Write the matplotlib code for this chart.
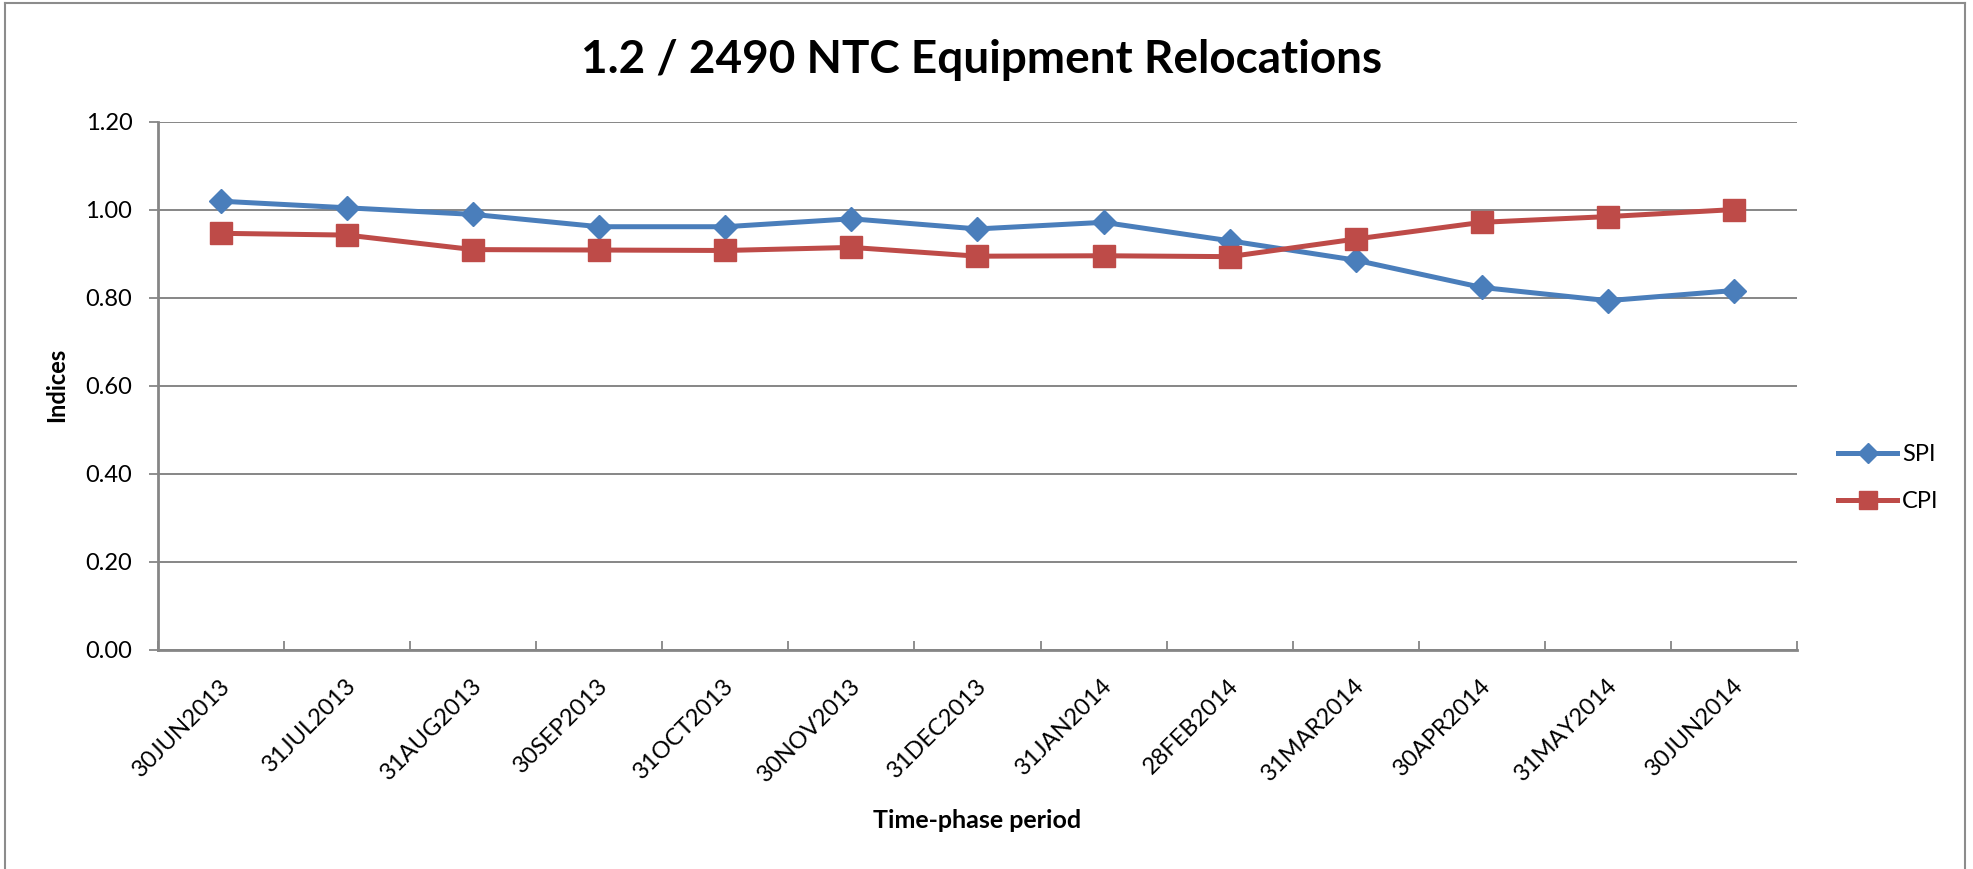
import matplotlib
matplotlib.use("Agg")
import matplotlib.pyplot as plt
from matplotlib.lines import Line2D
from matplotlib.transforms import ScaledTranslation

# Data
periods = ['30JUN2013', '31JUL2013', '31AUG2013', '30SEP2013', '31OCT2013',
           '30NOV2013', '31DEC2013', '31JAN2014', '28FEB2014', '31MAR2014',
           '30APR2014', '31MAY2014', '30JUN2014']
spi = [1.02, 1.005, 0.990, 0.962, 0.962, 0.980, 0.957, 0.972, 0.930, 0.886, 0.824, 0.794, 0.817]
cpi = [0.947, 0.943, 0.910, 0.909, 0.908, 0.915, 0.895, 0.896, 0.894, 0.934, 0.972, 0.985, 1.001]
y_ticks = [0.0, 0.2, 0.4, 0.6, 0.8, 1.0, 1.2]

plt.rcParams['font.family'] = ['Lato', 'DejaVu Sans']

W, H = 1973, 869
fig = plt.figure(figsize=(W / 100, H / 100), dpi=100)
fig.patch.set_facecolor('white')

# plot area in pixel coords
left, right, top, bottom = 158, 1797, 122, 650
ax = fig.add_axes([left / W, 1 - bottom / H, (right - left) / W, (bottom - top) / H])

x = list(range(len(periods)))
blue = '#4A7EBB'
red = '#BE4B48'
ax.plot(x, spi, color=blue, lw=3.6, marker='D', ms=12.5, mec=blue, mfc=blue, label='SPI', zorder=3)
ax.plot(x, cpi, color=red, lw=3.6, marker='s', ms=16, mec=red, mfc=red, label='CPI', zorder=3)

ax.set_xlim(-0.5, len(periods) - 0.5)
ax.set_ylim(0, 1.2)
ax.set_yticks(y_ticks)
ax.set_yticklabels(['%.2f' % v for v in y_ticks])
ax.grid(axis='y', color='#868686', lw=1.4)
ax.set_axisbelow(True)

gray = '#868686'
for s in ['top', 'right']:
    ax.spines[s].set_visible(False)
for s in ['left', 'bottom']:
    ax.spines[s].set_color(gray)
    ax.spines[s].set_linewidth(2)

# ticks between categories, labels at categories
ax.set_xticks(x)
ax.set_xticks([i - 0.5 for i in range(len(periods) + 1)], minor=True)
ax.tick_params(axis='x', which='major', length=0, pad=18, labelsize=17)
ax.tick_params(axis='x', which='minor', direction='in', length=6.5, width=1.3, color=gray)
ax.tick_params(axis='y', direction='out', length=6.5, width=1.3, color=gray, pad=12, labelsize=17)

ax.set_xticklabels(periods, rotation=45, ha='right', va='top', rotation_mode='anchor')
offset = ScaledTranslation(-0.02, 0, fig.dpi_scale_trans)
for lab in ax.get_xticklabels():
    lab.set_transform(lab.get_transform() + offset)

# titles
fig.text(982 / W, 1 - 73 / H, '1.2 / 2490 NTC Equipment Relocations',
         ha='center', va='baseline', fontsize=33, fontweight='bold')
fig.text(977 / W, 1 - 820 / H, 'Time-phase period', ha='center', va='center',
         fontsize=18, fontweight='bold')
fig.text(57 / W, 1 - 385 / H, 'Indices', ha='center', va='center', rotation=90,
         fontsize=17, fontweight='bold')

# legend
ax.legend(loc='center left', bbox_to_anchor=(1838 / W, 1 - 478 / H), bbox_transform=fig.transFigure,
          frameon=False, fontsize=17, handlelength=2.5, handletextpad=0.2, borderpad=0,
          borderaxespad=0, labelspacing=1.1, markerscale=0.85)

# outer chart border
bc = '#8c8c8c'
fig.add_artist(Line2D([5 / W, 1965 / W], [1 - 3 / H, 1 - 3 / H], color=bc, lw=1.5))
fig.add_artist(Line2D([5 / W, 5 / W], [0, 1 - 3 / H], color=bc, lw=1.5))
fig.add_artist(Line2D([1965 / W, 1965 / W], [0, 1 - 3 / H], color=bc, lw=1.5))

fig.savefig('out.png', dpi=100, facecolor='white')
